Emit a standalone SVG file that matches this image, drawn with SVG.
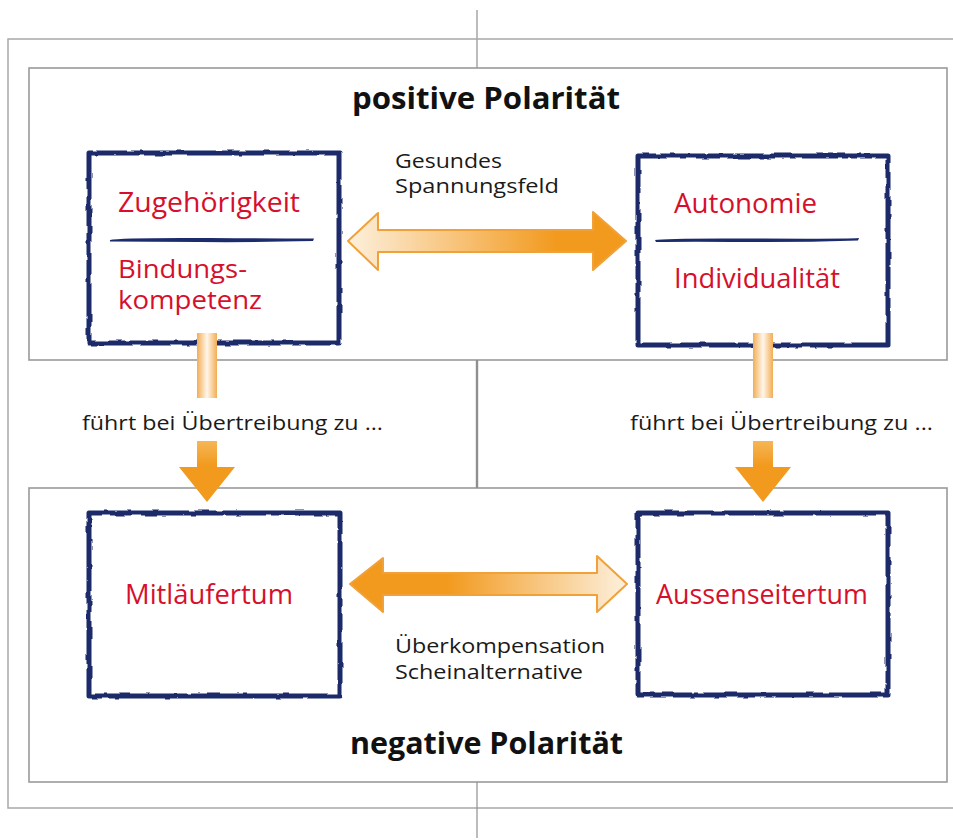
<svg xmlns="http://www.w3.org/2000/svg" width="953" height="840" viewBox="0 0 953 840">
<style>
.frame{fill:none;stroke:#a8a8a8;stroke-width:1.5}
.panel{fill:#fff;stroke:#9a9a9a;stroke-width:1.6}
.axis{stroke:#8f8f8f;fill:none}
.box{fill:#fff;stroke:#1c2b6b;stroke-width:5;stroke-linejoin:round}
.div{fill:#1c2b6b}
.title{font-family:"Open Sans","Liberation Sans",sans-serif;font-weight:bold;font-size:30px;fill:#111}
.red{font-family:"Open Sans","Liberation Sans",sans-serif;font-size:27px;fill:#d6102c}
.red2{font-family:"Open Sans","Liberation Sans",sans-serif;font-size:25px;fill:#d6102c}
.lbl{font-family:"Open Sans","Liberation Sans",sans-serif;font-size:20px;fill:#1a1a1a}
</style>
<defs>
<filter id="rough" x="-5%" y="-5%" width="110%" height="110%">
<feTurbulence type="fractalNoise" baseFrequency="0.08" numOctaves="2" seed="3"/>
<feDisplacementMap in="SourceGraphic" scale="3.5" xChannelSelector="R" yChannelSelector="G"/>
</filter>
<linearGradient id="gTop" x1="0" y1="0" x2="1" y2="0">
<stop offset="0" stop-color="#fdf0dd"/>
<stop offset="0.75" stop-color="#f29a1e"/>
<stop offset="1" stop-color="#f29a1e"/>
</linearGradient>
<linearGradient id="gBot" x1="0" y1="0" x2="1" y2="0">
<stop offset="0" stop-color="#f29a1e"/>
<stop offset="0.35" stop-color="#f29a1e"/>
<stop offset="1" stop-color="#fdf0dd"/>
</linearGradient>
<linearGradient id="gStub" x1="0" y1="0" x2="1" y2="0">
<stop offset="0" stop-color="#f3ad55"/>
<stop offset="0.5" stop-color="#fff6ea"/>
<stop offset="1" stop-color="#f3ad55"/>
</linearGradient>
<linearGradient id="gHead" x1="0" y1="0" x2="0" y2="1">
<stop offset="0" stop-color="#f6b656"/>
<stop offset="0.4" stop-color="#f29a1e"/>
<stop offset="1" stop-color="#f29a1e"/>
</linearGradient>
</defs>

<g id="background">
<line class="axis" x1="477" y1="10" x2="477" y2="68" stroke-width="1.2"/>
<path class="frame" d="M953,39 H8 V808 H953"/>
<rect id="panel-top" class="panel" x="29" y="68" width="918" height="292"/>
<rect id="panel-bottom" class="panel" x="29" y="488" width="918" height="294"/>
<line class="axis" x1="477" y1="360" x2="477" y2="488" stroke-width="2.4" stroke="#888"/>
<line class="axis" x1="477" y1="782" x2="477" y2="838" stroke-width="1.2"/>
<text class="title" x="352" y="109" textLength="268" lengthAdjust="spacingAndGlyphs">positive Polarität</text>
<text class="title" x="350" y="754" textLength="273" lengthAdjust="spacingAndGlyphs">negative Polarität</text>
</g>

<g id="node-zugehoerigkeit">
<rect class="box" x="89" y="153" width="250" height="190" filter="url(#rough)"/>
<path class="div" d="M110,240 Q120,237.5 210,238 T314,238.5 L313,241 Q250,242.5 200,242 T110,241.5 Z"/>
<text class="red" x="118" y="212" textLength="182" lengthAdjust="spacingAndGlyphs">Zugehörigkeit</text>
<text class="red2" x="118" y="278" textLength="129" lengthAdjust="spacingAndGlyphs">Bindungs-</text>
<text class="red2" x="118" y="309" textLength="144" lengthAdjust="spacingAndGlyphs">kompetenz</text>
</g>

<g id="node-autonomie">
<rect class="box" x="638" y="156" width="250" height="189" filter="url(#rough)"/>
<path class="div" d="M655,240 Q665,238 755,238.5 T859,238 L858,240.5 Q800,242.5 745,242 T656,242 Z"/>
<text class="red" x="674" y="213" textLength="143" lengthAdjust="spacingAndGlyphs">Autonomie</text>
<text class="red" x="674" y="288" textLength="166" lengthAdjust="spacingAndGlyphs">Individualität</text>
</g>

<g id="node-mitlaeufertum">
<rect class="box" x="89" y="513" width="251" height="183" filter="url(#rough)"/>
<text class="red" x="125" y="604" textLength="168" lengthAdjust="spacingAndGlyphs">Mitläufertum</text>
</g>

<g id="node-aussenseitertum">
<rect class="box" x="638" y="513" width="250" height="182" filter="url(#rough)"/>
<text class="red" x="656" y="604" textLength="212" lengthAdjust="spacingAndGlyphs">Aussenseitertum</text>
</g>

<g id="connectors">
<path d="M348,241 L378,213 L378,230 L593,230 L593,212 L626,241 L593,270 L593,252 L378,252 L378,270 Z" fill="url(#gTop)" stroke="#f0a13a" stroke-width="2" stroke-linejoin="round"/>
<text class="lbl" x="395" y="168" textLength="107" lengthAdjust="spacingAndGlyphs">Gesundes</text>
<text class="lbl" x="395" y="193" textLength="164" lengthAdjust="spacingAndGlyphs">Spannungsfeld</text>

<path d="M350,584 L383,558 L383,573 L597,573 L597,556 L627,584 L597,612 L597,595 L383,595 L383,612 Z" fill="url(#gBot)" stroke="#f0a13a" stroke-width="2" stroke-linejoin="round"/>
<text class="lbl" x="395" y="653" textLength="210" lengthAdjust="spacingAndGlyphs">Überkompensation</text>
<text class="lbl" x="395" y="679" textLength="188" lengthAdjust="spacingAndGlyphs">Scheinalternative</text>

<rect x="197" y="333" width="20" height="65" fill="url(#gStub)"/>
<path d="M197,441 H217 V467 H235 L207,502 L179,467 H197 Z" fill="url(#gHead)"/>
<text class="lbl" x="82" y="430" textLength="301" lengthAdjust="spacingAndGlyphs">führt bei Übertreibung zu ...</text>

<rect x="753" y="333" width="20" height="65" fill="url(#gStub)"/>
<path d="M753,441 H773 V467 H791 L763,502 L735,467 H753 Z" fill="url(#gHead)"/>
<text class="lbl" x="630" y="430" textLength="303" lengthAdjust="spacingAndGlyphs">führt bei Übertreibung zu ...</text>
</g>
</svg>
